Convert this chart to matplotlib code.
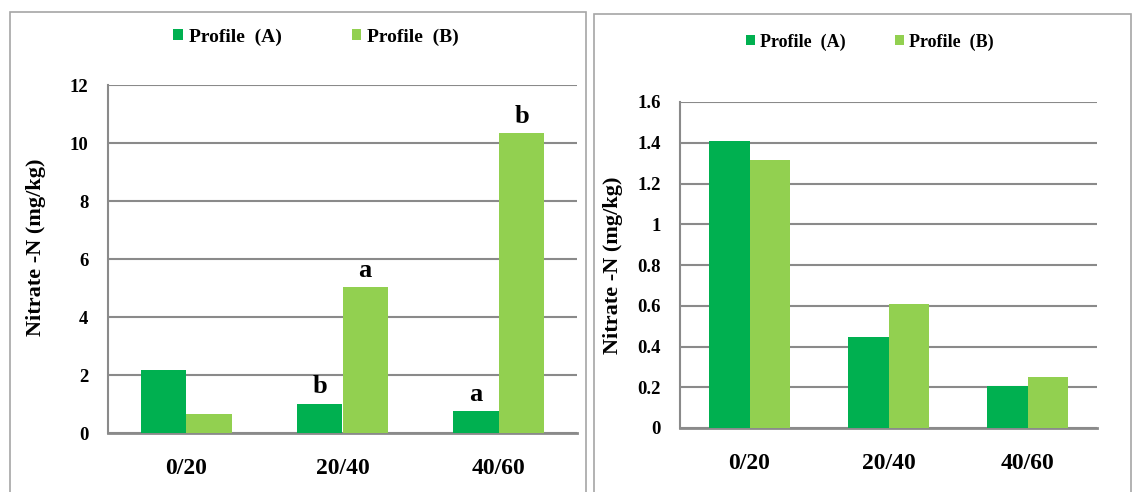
import matplotlib.pyplot as plt
import numpy as np
from matplotlib.patches import Rectangle

depths = ['0/20', '20/40', '40/60']
left_a = [2.18, 1.01, 0.75]
left_b = [0.64, 5.02, 10.33]
left_letters_a = ['', 'b', 'a']
left_letters_b = ['', 'a', 'b']
right_a = [1.41, 0.448, 0.204]
right_b = [1.314, 0.61, 0.248]
left_ticks = [0, 2, 4, 6, 8, 10, 12]
right_ticks = [0, 0.2, 0.4, 0.6, 0.8, 1, 1.2, 1.4, 1.6]
right_ticklabels = ['0', '0.2', '0.4', '0.6', '0.8', '1', '1.2', '1.4', '1.6']
series_names = ['Profile  (A)', 'Profile  (B)']

col_a = '#00B050'
col_b = '#92D050'
grid_col = '#8a8a8a'
frame_col = '#a6a6a6'

plt.rcParams['font.family'] = ['Liberation Serif', 'DejaVu Serif']
plt.rcParams['font.weight'] = 'bold'

W, H = 1132, 492
fig = plt.figure(figsize=(W / 100, H / 100), dpi=100)


def px_axes(x0, y0, x1, y1):
    # pixel box (top-left origin) -> figure fraction
    return fig.add_axes([x0 / W, 1 - y1 / H, (x1 - x0) / W, (y1 - y0) / H])


def frame(x0, y0, x1, y1):
    fig.patches.append(Rectangle((x0 / W, 1 - y1 / H), (x1 - x0) / W, (y1 - y0) / H,
                                 transform=fig.transFigure, fill=False,
                                 edgecolor=frame_col, linewidth=1.2))


def panel(ax, a, b, ticks, ticklabels, ymax):
    x = np.arange(len(depths))
    w = 0.29
    ba = ax.bar(x - w / 2, a, w, color=col_a, label=series_names[0], zorder=3)
    bb = ax.bar(x + w / 2, b, w, color=col_b, label=series_names[1], zorder=3)
    ax.set_xlim(-0.5, len(depths) - 0.5)
    ax.set_ylim(0, ymax)
    ax.set_yticks(ticks)
    ax.set_yticklabels(ticklabels, fontsize=13.5, fontweight='bold')
    ax.set_xticks(x)
    ax.set_xticklabels(depths, fontsize=17, fontweight='bold')
    ax.tick_params(axis='x', length=0, pad=18)
    ax.tick_params(axis='y', length=0, pad=14)
    ax.yaxis.grid(True, color=grid_col, linewidth=1.5, zorder=0)
    ax.set_axisbelow(True)
    for s in ['top', 'right']:
        ax.spines[s].set_visible(False)
    ax.spines['left'].set_color(grid_col)
    ax.spines['bottom'].set_color(grid_col)
    ax.spines['left'].set_linewidth(1.5)
    ax.spines['bottom'].set_linewidth(2)
    ax.set_ylabel('Nitrate -N (mg/kg)', fontsize=16, fontweight='bold')
    return ba, bb


def legend(ax, cx, cy, size, colsp):
    ax.legend(loc='center', bbox_to_anchor=(cx / W, 1 - cy / H), bbox_transform=fig.transFigure,
              ncol=2, frameon=False, handlelength=0.5, handleheight=0.5,
              handletextpad=0.3, columnspacing=colsp, prop={'weight': 'bold', 'size': size})


frame(10, 12, 586, 520)
frame(594, 14, 1131, 520)

ax1 = px_axes(108, 85, 577, 433)
ba, bb = panel(ax1, left_a, left_b, left_ticks, [str(t) for t in left_ticks], 12)
ax1.yaxis.set_label_coords(-0.133, 0.534)
for bars, letters in [(ba, left_letters_a), (bb, left_letters_b)]:
    for r, t in zip(bars, letters):
        if t:
            ax1.annotate(t, (r.get_x() + r.get_width() / 2, r.get_height()),
                         xytext=(0, 4), textcoords='offset points',
                         ha='center', va='bottom', fontsize=19, fontweight='bold')
legend(ax1, 316, 37, 14, 3.6)

ax2 = px_axes(680, 102, 1097, 428)
panel(ax2, right_a, right_b, right_ticks, right_ticklabels, 1.6)
ax2.yaxis.set_label_coords(-0.136, 0.5)
legend(ax2, 870, 42, 13, 2.7)

fig.savefig('out.png', dpi=100)
